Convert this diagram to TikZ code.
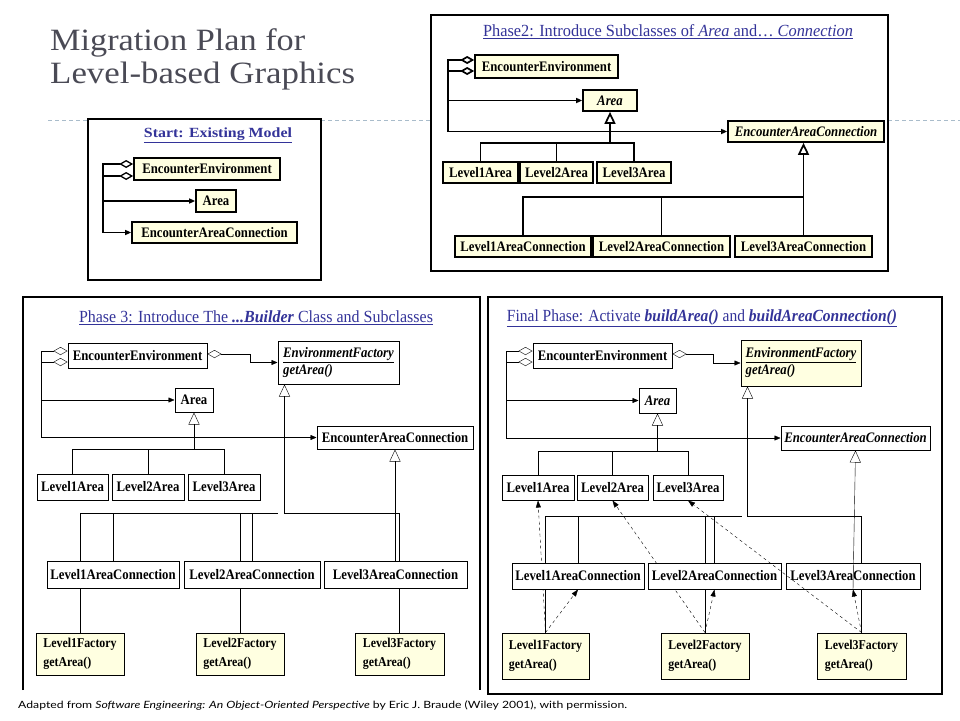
\documentclass[tikz,border=0pt]{standalone}
\usepackage{fontspec}
\usepackage{graphicx}
\setmainfont{Liberation Serif}
\newfontfamily\clsfont[FakeStretch=0.88]{Liberation Serif}
\newfontfamily\notefont{Lato}
\usetikzlibrary{arrows.meta,calc}
\definecolor{cream}{HTML}{FFFFE1}
\definecolor{ttlblue}{HTML}{333399}
\definecolor{headgray}{HTML}{4A4A55}
\definecolor{rulegray}{HTML}{A9BCCB}
\pgfdeclarelayer{bg}
\pgfsetlayers{bg,main}
\newcommand\fitw[2]{\resizebox{#1pt}{\height}{#2}}
\newcommand\cbox[7][]{\node[cls,#1,minimum width={(#5)-(#3)},minimum height={(#6)-(#4)}] (#2) at ({((#3)+(#5))/2},{((#4)+(#6))/2}) {#7};}
\begin{document}
\begin{tikzpicture}[x=1pt,y=-1pt,
  cls/.style={draw, rectangle, inner sep=0pt, fill=white, line width=1pt,
    font=\clsfont\fontsize{14.5}{17}\selectfont\bfseries},
  thickbox/.style={line width=1.7pt},
  yel/.style={fill=cream},
  panel/.style={line width=1.2pt},
  ttl/.style={text=ttlblue, inner sep=0pt},
  agg/.style={{Diamond[open,length=14pt,width=8pt]}-{Triangle[length=6pt,width=5pt]}},
  gen/.style={-{Triangle[open,length=12pt,width=11pt]}},
  dep/.style={dash pattern=on 3pt off 3pt, -{Triangle[length=7pt,width=5pt]}},
  wline/.style={line width=1.7pt},
  sline/.style={line width=1.3pt},
  fact/.style={cls, yel, align=left, font=\clsfont\fontsize{13.5}{19}\selectfont\bfseries}]
\useasboundingbox (0,0) rectangle (960,720);

% ---------- heading ----------
\node[anchor=base west, text=headgray, inner sep=0pt, font=\fontsize{31}{36}\selectfont] (h1) at (50,50) {\fitw{255}{Migration Plan for}};
\node[anchor=base west, text=headgray, inner sep=0pt, font=\fontsize{31}{36}\selectfont] (h2) at (50,83) {\fitw{305}{Level-based Graphics}};

\begin{pgfonlayer}{bg}
\draw[rulegray, line width=0.8pt, dash pattern=on 4pt off 3pt] (48,120) -- (960,120);
\cbox[panel]{spn}{88}{119}{321}{280}{}
\cbox[panel]{ppn}{431}{15}{888}{271}{}
\cbox[panel]{fpn}{488}{297}{942}{694}{}
\coordinate (qp1) at (23,690);
\coordinate (qp2) at (23,297);
\coordinate (qp3) at (480,297);
\coordinate (qp4) at (480,690);
\draw[panel] (qp1) -- (qp2) -- (qp3) -- (qp4);
\end{pgfonlayer}

% ---------- Start ----------
\node[ttl, font=\fontsize{14}{16}\selectfont\bfseries] (stt) at (218,135) {\fitw{148}{\underline{Start: Existing Model}}};
\cbox[thickbox,yel]{see}{134}{158}{280}{180}{EncounterEnvironment}
\cbox[thickbox,yel]{sar}{196}{190}{236}{212}{Area}
\cbox[thickbox,yel]{sac}{132}{222}{297}{243}{EncounterAreaConnection}
\coordinate (str) at (103,0);
\begin{pgfonlayer}{bg}
\draw[agg, sline] ([yshift=5pt]see.west) -| (str |- sar.west) -- (sar.west);
\draw[agg, sline] ([yshift=-7pt]see.west) -| (str |- sac.west) -- (sac.west);
\end{pgfonlayer}

% ---------- Phase 2 ----------
\node[ttl, font=\fontsize{17}{19}\selectfont] (ptt) at (668,32) {\fitw{370}{\underline{Phase2: Introduce Subclasses of \textit{Area} and\ldots\ \textit{Connection}}}};
\cbox[thickbox,yel]{pee}{475}{55}{618}{78}{EncounterEnvironment}
\cbox[thickbox,yel]{par}{583}{90}{637}{111}{\itshape Area}
\cbox[thickbox,yel]{pac}{728}{121}{884}{142}{\itshape EncounterAreaConnection}
\cbox[thickbox,yel]{pl1}{443}{162}{518}{183}{Level1Area}
\cbox[thickbox,yel]{pl2}{520}{162}{593}{183}{Level2Area}
\cbox[thickbox,yel]{pl3}{597}{162}{671}{183}{Level3Area}
\cbox[thickbox,yel]{pc1}{455}{236}{591}{257}{Level1AreaConnection}
\cbox[thickbox,yel]{pc2}{593}{236}{730}{257}{Level2AreaConnection}
\cbox[thickbox,yel]{pc3}{735}{236}{872}{257}{Level3AreaConnection}
\coordinate (ptr) at (448,0);
\coordinate (pb1) at (0,143);
\coordinate (pb2) at (0,197);
\begin{pgfonlayer}{bg}
\draw[agg, wline] ([yshift=6.5pt]pee.west) -| (ptr |- par.west) -- (par.west);
\draw[agg, wline] ([yshift=-4.5pt]pee.west) -| (ptr |- pac.west) -- (pac.west);
\draw[wline] (pl1.north) |- (pl3.north |- pb1) -- (pl3.north);
\draw[wline] (pl2.north) -- (pl2.north |- pb1);
\draw[gen, wline] (par.south |- pb1) -- (par.south);
\draw[wline] (pc1.north) |- (pc3.north |- pb2);
\draw[wline] (pc2.north) -- (pc2.north |- pb2);
\draw[gen, wline] (pc3.north) -- (pc3.north |- pac.south);
\end{pgfonlayer}

% ---------- Phase 3 ----------
\node[ttl, font=\fontsize{17}{19}\selectfont] (qtt) at (256,318) {\fitw{354}{\underline{Phase 3: Introduce The \textbf{\textit{...Builder}} Class and Subclasses}}};
\cbox{qee}{68}{343}{207}{368}{EncounterEnvironment}
\cbox[align=left]{qef}{278}{341}{399}{384}{\itshape\underline{EnvironmentFactory}\\\itshape getArea()}
\cbox{qar}{175}{388}{213}{412}{Area}
\cbox{qac}{317}{426}{473}{449}{EncounterAreaConnection}
\cbox{ql1}{37}{474}{108}{500}{Level1Area}
\cbox{ql2}{112}{474}{184}{500}{Level2Area}
\cbox{ql3}{188}{474}{260}{500}{Level3Area}
\cbox{qc1}{47}{561}{179}{588}{Level1AreaConnection}
\cbox{qc2}{184}{561}{320}{588}{Level2AreaConnection}
\cbox{qc3}{324}{561}{467}{588}{Level3AreaConnection}
\cbox[fact]{qf1}{36}{633}{124}{675}{Level1Factory\\getArea()}
\cbox[fact]{qf2}{196}{633}{284}{675}{Level2Factory\\getArea()}
\cbox[fact]{qf3}{355}{633}{444}{675}{Level3Factory\\getArea()}
\coordinate (qtr) at (41,0);
\coordinate (qbx) at (250,0);
\coordinate (qb1) at (0,449);
\coordinate (qb2) at (0,513);
\coordinate (qbe) at (278,513);
\coordinate (qeft) at ([xshift=7pt]qef.south west);
\begin{pgfonlayer}{bg}
\draw[agg] ([yshift=4.5pt]qee.west) -| (qtr |- qar.west) -- (qar.west);
\draw[agg] ([yshift=-6.5pt]qee.west) -| (qtr |- qac.west) -- (qac.west);
\draw[agg] ([yshift=1.5pt]qee.east) -| (qbx |- qef.west) -- (qef.west);
\draw (ql1.north) |- (ql3.north |- qb1) -- (ql3.north);
\draw (ql2.north) -- (ql2.north |- qb1);
\draw[gen] (qar.south |- qb1) -- (qar.south);
\draw[gen] (qc3.north -| qac.south) -- (qac.south);
\draw (qf1.north) |- (qbe);
\draw (qc1.north) -- (qc1.north |- qb2);
\draw (qf2.north) -- (qf2.north |- qb2);
\draw (qc2.north) -- (qc2.north |- qb2);
\draw[gen] (qf3.north) |- (qeft |- qb2) -- (qeft);
\end{pgfonlayer}

% ---------- Final Phase ----------
\node[ttl, font=\fontsize{17}{19}\selectfont] (ftt) at (702,318) {\fitw{390}{\underline{Final Phase: Activate \textbf{\textit{buildArea()}} and \textbf{\textit{buildAreaConnection()}}}}};
\cbox{fee}{533}{343}{672}{368}{EncounterEnvironment}
\cbox[yel,align=left]{fef}{741}{340}{861}{386}{\itshape\underline{EnvironmentFactory}\\\itshape getArea()}
\cbox{far}{639}{388}{676}{413}{\itshape Area}
\cbox{fac}{781}{426}{930}{450}{\itshape EncounterAreaConnection}
\cbox{fl1}{502}{475}{574}{500}{Level1Area}
\cbox{fl2}{577}{475}{648}{500}{Level2Area}
\cbox{fl3}{653}{475}{723}{500}{Level3Area}
\cbox{fc1}{512}{563}{644}{589}{Level1AreaConnection}
\cbox{fc2}{648}{563}{781}{589}{Level2AreaConnection}
\cbox{fc3}{786}{563}{920}{589}{Level3AreaConnection}
\cbox[fact]{ff1}{502}{633}{589}{679}{Level1Factory\\getArea()}
\cbox[fact]{ff2}{661}{633}{749}{679}{Level2Factory\\getArea()}
\cbox[fact]{ff3}{817}{633}{906}{679}{Level3Factory\\getArea()}
\coordinate (ftr) at (506,0);
\coordinate (fbx) at (713,0);
\coordinate (fb1) at (0,451);
\coordinate (fb2) at (0,516);
\coordinate (fbe) at (742,516);
\coordinate (feft) at ([xshift=7pt]fef.south west);
\begin{pgfonlayer}{bg}
\draw[agg] ([yshift=4.5pt]fee.west) -| (ftr |- far.west) -- (far.west);
\draw[agg] ([yshift=-6.5pt]fee.west) -| (ftr |- fac.west) -- (fac.west);
\draw[agg] ([yshift=1.5pt]fee.east) -| (fbx |- fef.west) -- (fef.west);
\draw (fl1.north) |- (fl3.north |- fb1) -- (fl3.north);
\draw (fl2.north) -- (fl2.north |- fb1);
\draw[gen] (far.south |- fb1) -- (far.south);
\draw (ff1.north) |- (fbe);
\draw (fc1.north) -- (fc1.north |- fb2);
\draw (ff2.north) -- (ff2.north |- fb2);
\draw (fc2.north) -- (fc2.north |- fb2);
\draw[gen] (ff3.north) |- (feft |- fb2) -- (feft);
\draw[dep] (ff1.north) -- (fl1.south);
\draw[dep] (ff1.north) -- (fc1.south);
\draw[dep] (ff2.north) -- (fl2.south);
\draw[dep] (ff2.north) -- (fc2.south);
\draw[dep] (ff3.north) -- (fc3.south);
\end{pgfonlayer}
\draw[gen] (fc3.south) -- (fac.south);
\draw[dep] (ff3.north) -- (fl3.south);

% ---------- footnote ----------
\node[anchor=base west, inner sep=0pt, font=\notefont\fontsize{10}{12}\selectfont] (fn) at (18,708) {\fitw{609}{Adapted from \textit{Software Engineering: An Object-Oriented Perspective} by Eric J. Braude (Wiley 2001), with permission.}};
\end{tikzpicture}
\end{document}
